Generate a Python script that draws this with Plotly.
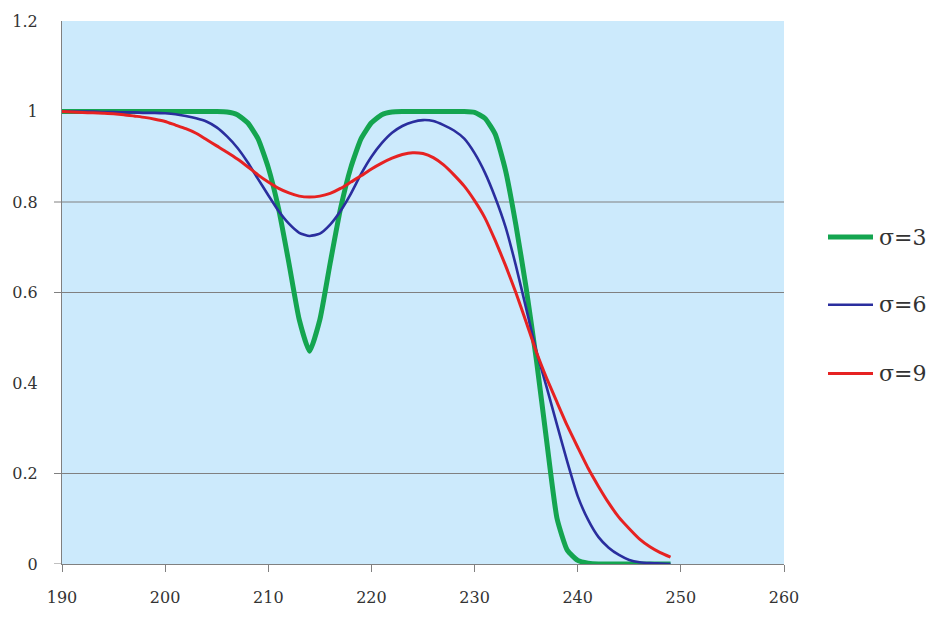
import plotly.graph_objects as go

x_vals = list(range(190, 250))

sigma3 = [1.0] * 16 + [
    0.999, 0.993, 0.975, 0.94, 0.876, 0.785, 0.665, 0.54, 0.47,
    0.54, 0.665, 0.785, 0.876, 0.94, 0.975, 0.993, 0.999,
] + [1.0] * 7 + [
    0.998, 0.985, 0.95, 0.87, 0.75, 0.61, 0.45, 0.27, 0.1, 0.03, 0.008, 0.002,
] + [0.0] * 8

sigma6 = [
    1.0, 1.0, 1.0, 1.0, 0.999, 0.999, 0.998, 0.998, 0.997, 0.997,
    0.996, 0.994, 0.99, 0.985, 0.978, 0.965, 0.945, 0.92, 0.888, 0.851,
    0.815, 0.78, 0.752, 0.732, 0.725, 0.73, 0.75, 0.78, 0.818, 0.862,
    0.9, 0.93, 0.953, 0.968, 0.977, 0.981, 0.979, 0.97, 0.958, 0.94,
    0.908, 0.865, 0.81, 0.745, 0.66, 0.565, 0.47, 0.39, 0.307, 0.225,
    0.15, 0.098, 0.06, 0.036, 0.02, 0.009, 0.004, 0.002, 0.001, 0.0,
]

sigma9 = [
    1.0, 0.999, 0.998, 0.997, 0.996, 0.995, 0.993, 0.99, 0.987, 0.983,
    0.978, 0.97, 0.962, 0.952, 0.938, 0.924, 0.91, 0.895, 0.878, 0.86,
    0.844, 0.83, 0.82, 0.813, 0.811, 0.813, 0.819, 0.83, 0.844, 0.858,
    0.873, 0.886, 0.897, 0.905, 0.909, 0.907, 0.898, 0.882, 0.86, 0.835,
    0.803, 0.765, 0.715, 0.66, 0.6, 0.535, 0.468, 0.41, 0.357, 0.305,
    0.258, 0.212, 0.172, 0.135, 0.103, 0.078, 0.055, 0.038, 0.025, 0.015,
]

series_names = ["σ=3", "σ=6", "σ=9"]
series_values = [sigma3, sigma6, sigma9]
series_colors = ["#14A550", "#2A2E9E", "#E62222"]
series_widths = [5, 2.6, 3]

x_ticks = [190, 200, 210, 220, 230, 240, 250, 260]
y_ticks = [0, 0.2, 0.4, 0.6, 0.8, 1.0, 1.2]
y_tick_text = ["0", "0.2", "0.4", "0.6", "0.8", "1", "1.2"]
grid_vals = [0.2, 0.6, 0.8]
tick_mark_vals = [0, 0.2, 0.6, 0.8]

fig = go.Figure()
for name, vals, col, w in zip(series_names, series_values, series_colors, series_widths):
    fig.add_trace(go.Scatter(
        x=x_vals, y=vals, name=name, mode="lines",
        line=dict(color=col, width=w, shape="spline", smoothing=0.5),
        showlegend=False,
    ))

# horizontal gridlines (only those visible in the reference)
for gv in grid_vals:
    fig.add_shape(type="line", xref="paper", yref="y", x0=0, x1=1, y0=gv, y1=gv,
                  line=dict(color="#808080", width=1), layer="below")
# y tick marks
for tv in tick_mark_vals:
    fig.add_shape(type="line", xref="paper", yref="y", x0=-8 / 722, x1=0, y0=tv, y1=tv,
                  line=dict(color="#808080", width=1))

# manual legend
leg_y = [0.602, 0.4775, 0.351]
x0p = (828 - 62) / 722
x1p = (873 - 62) / 722
xtp = (877 - 62) / 722
for name, col, w, yy in zip(series_names, series_colors, series_widths, leg_y):
    fig.add_shape(type="line", xref="paper", yref="paper",
                  x0=x0p, x1=x1p, y0=yy, y1=yy,
                  line=dict(color=col, width=w))
    fig.add_annotation(xref="paper", yref="paper", x=xtp, y=yy,
                       text=name, showarrow=False, xanchor="left", yanchor="middle",
                       font=dict(family="DejaVu Serif", size=22, color="#333333"))

tick_font = dict(family="DejaVu Serif", size=16, color="#333333")

fig.update_layout(
    width=938, height=619,
    margin=dict(l=62, r=154, t=17, b=47),
    paper_bgcolor="white",
    plot_bgcolor="#CCEAFC",
    xaxis=dict(
        range=[190, 260], tickvals=x_ticks, ticks="outside", ticklen=7,
        tickcolor="#808080", showline=True, linecolor="#808080", linewidth=1,
        showgrid=False, zeroline=False, tickfont=tick_font, ticklabelstandoff=12,
    ),
    yaxis=dict(
        range=[0, 1.2], tickvals=y_ticks, ticktext=y_tick_text, ticks="",
        showline=True, linecolor="#808080", linewidth=1,
        showgrid=False, zeroline=False, tickfont=tick_font, ticklabelstandoff=20,
    ),
)

fig.write_html("out.html")
